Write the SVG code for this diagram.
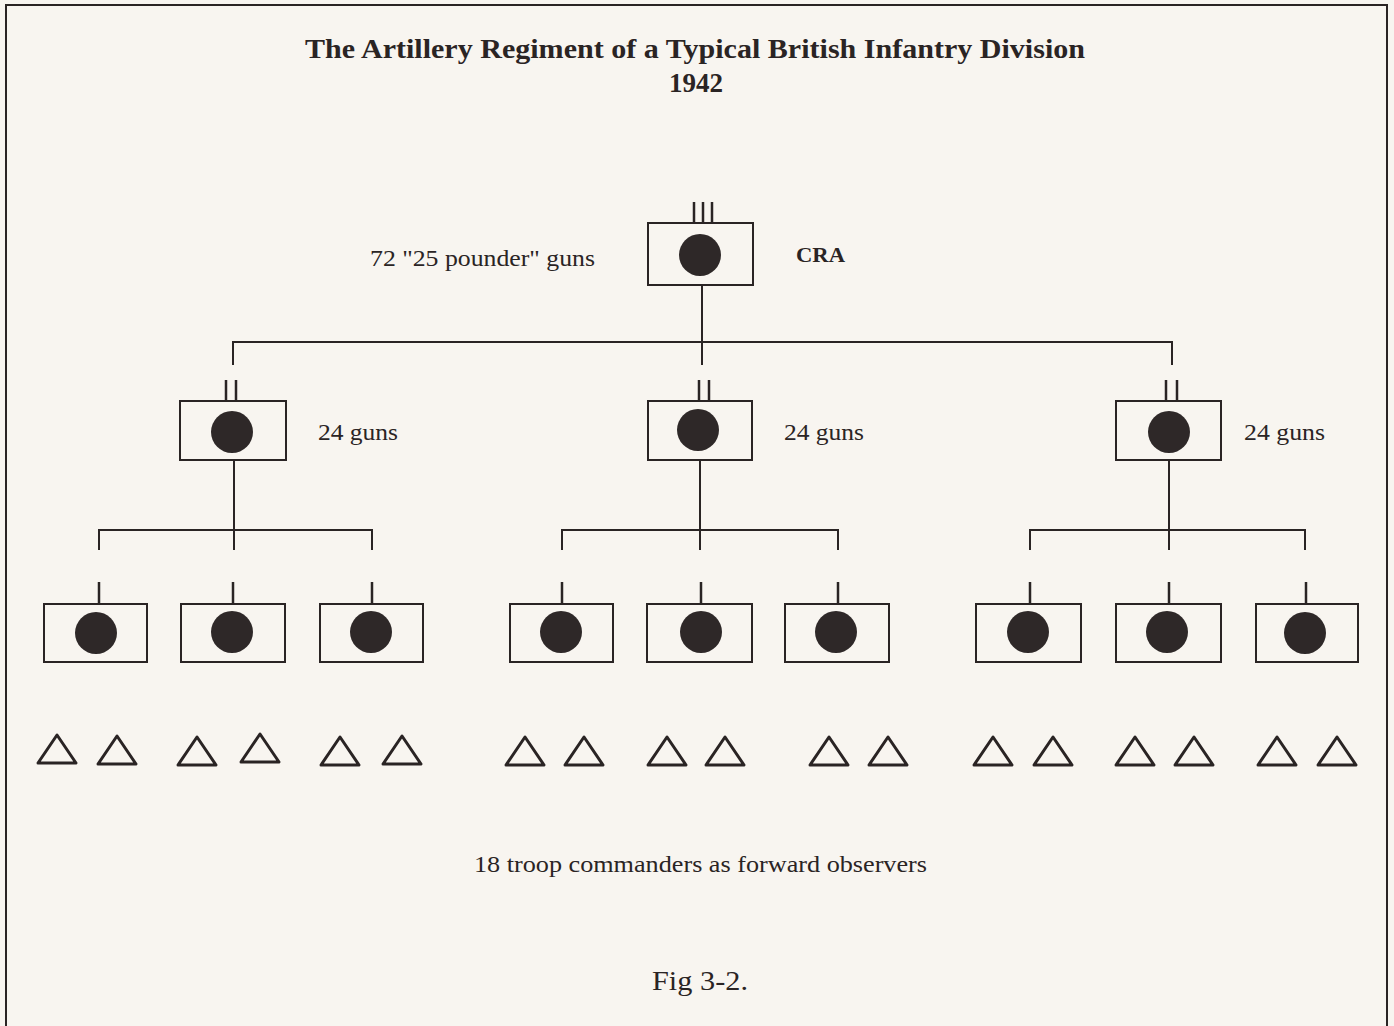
<svg xmlns="http://www.w3.org/2000/svg" width="1394" height="1026" viewBox="0 0 1394 1026">
<style>
.bx{fill:none;stroke:#2a2424;stroke-width:2}
.dot{fill:#2e2828}
.ln{stroke:#2a2424;stroke-width:2;fill:none}
.tk{stroke:#2a2424;stroke-width:2.5;fill:none}
.tri{fill:none;stroke:#2a2424;stroke-width:3;stroke-linejoin:round}
.t{font-family:"Liberation Serif","Times New Roman",serif;fill:#2a2424}
.lb{font-size:23px}
.bd{font-weight:bold}
</style>
<rect width="1394" height="1026" fill="#f8f5f0"/>
<path class="ln" d="M6,1026 V5 H1387 V1026" stroke-width="3"/>
<text class="t bd" x="305" y="58" font-size="27" textLength="780" lengthAdjust="spacingAndGlyphs">The Artillery Regiment of a Typical British Infantry Division</text>
<text class="t bd" x="696" y="92" font-size="27" text-anchor="middle">1942</text>
<g id="connectors">
<path class="ln" d="M702,285 V342 M233,365 V342 H1172 V365 M702,342 V365"/>
<path class="ln" d="M234,460 V550 M99,550 V530 H372 V550"/>
<path class="ln" d="M700,460 V550 M562,550 V530 H838 V550"/>
<path class="ln" d="M1169,460 V550 M1030,550 V530 H1305 V550"/>
</g>
<g id="cra">
<path class="tk" d="M694,202 V223 M703,202 V223 M712,202 V223"/>
<rect class="bx" x="648" y="223" width="105" height="62"/>
<circle class="dot" cx="700" cy="255" r="21"/>
<text class="t lb" x="370" y="266" textLength="225" lengthAdjust="spacingAndGlyphs">72 "25 pounder" guns</text>
<text class="t bd" x="796" y="262" font-size="22" textLength="49" lengthAdjust="spacingAndGlyphs">CRA</text>
</g>
<g id="bn1">
<path class="tk" d="M226,380 V401 M236,380 V401"/>
<rect class="bx" x="180" y="401" width="106" height="59"/>
<circle class="dot" cx="232" cy="432" r="21"/>
<text class="t lb" x="318" y="440" textLength="80" lengthAdjust="spacingAndGlyphs">24 guns</text>
</g>
<g id="bn2">
<path class="tk" d="M699,380 V401 M709,380 V401"/>
<rect class="bx" x="648" y="401" width="104" height="59"/>
<circle class="dot" cx="698" cy="430" r="21"/>
<text class="t lb" x="784" y="440" textLength="80" lengthAdjust="spacingAndGlyphs">24 guns</text>
</g>
<g id="bn3">
<path class="tk" d="M1166,380 V401 M1177,380 V401"/>
<rect class="bx" x="1116" y="401" width="105" height="59"/>
<circle class="dot" cx="1169" cy="432" r="21"/>
<text class="t lb" x="1244" y="440" textLength="81" lengthAdjust="spacingAndGlyphs">24 guns</text>
</g>
<g id="bty1"><path class="tk" d="M99,582 V604"/><rect class="bx" x="44" y="604" width="103" height="58"/><circle class="dot" cx="96" cy="633" r="21"/></g>
<g id="bty2"><path class="tk" d="M233,582 V604"/><rect class="bx" x="181" y="604" width="104" height="58"/><circle class="dot" cx="232" cy="632" r="21"/></g>
<g id="bty3"><path class="tk" d="M372,582 V604"/><rect class="bx" x="320" y="604" width="103" height="58"/><circle class="dot" cx="371" cy="632" r="21"/></g>
<g id="bty4"><path class="tk" d="M562,582 V604"/><rect class="bx" x="510" y="604" width="103" height="58"/><circle class="dot" cx="561" cy="632" r="21"/></g>
<g id="bty5"><path class="tk" d="M701,582 V604"/><rect class="bx" x="647" y="604" width="105" height="58"/><circle class="dot" cx="701" cy="632" r="21"/></g>
<g id="bty6"><path class="tk" d="M838,582 V604"/><rect class="bx" x="785" y="604" width="104" height="58"/><circle class="dot" cx="836" cy="632" r="21"/></g>
<g id="bty7"><path class="tk" d="M1030,582 V604"/><rect class="bx" x="976" y="604" width="105" height="58"/><circle class="dot" cx="1028" cy="632" r="21"/></g>
<g id="bty8"><path class="tk" d="M1169,582 V604"/><rect class="bx" x="1116" y="604" width="105" height="58"/><circle class="dot" cx="1167" cy="632" r="21"/></g>
<g id="bty9"><path class="tk" d="M1306,582 V604"/><rect class="bx" x="1256" y="604" width="102" height="58"/><circle class="dot" cx="1305" cy="633" r="21"/></g>
<g id="observers">
<defs><path id="tr" class="tri" d="M-19,28 L0,0 L19,28 Z"/></defs>
<use href="#tr" x="57" y="735"/><use href="#tr" x="117" y="736"/>
<use href="#tr" x="197" y="737"/><use href="#tr" x="260" y="734"/>
<use href="#tr" x="340" y="737"/><use href="#tr" x="402" y="736"/>
<use href="#tr" x="525" y="737"/><use href="#tr" x="584" y="737"/>
<use href="#tr" x="667" y="737"/><use href="#tr" x="725" y="737"/>
<use href="#tr" x="829" y="737"/><use href="#tr" x="888" y="737"/>
<use href="#tr" x="993" y="737"/><use href="#tr" x="1053" y="737"/>
<use href="#tr" x="1135" y="737"/><use href="#tr" x="1194" y="737"/>
<use href="#tr" x="1277" y="737"/><use href="#tr" x="1337" y="737"/>
</g>
<text class="t lb" x="474" y="872" textLength="453" lengthAdjust="spacingAndGlyphs">18 troop commanders as forward observers</text>
<text class="t" x="652" y="990" font-size="28" textLength="96" lengthAdjust="spacingAndGlyphs">Fig 3-2.</text>
</svg>
